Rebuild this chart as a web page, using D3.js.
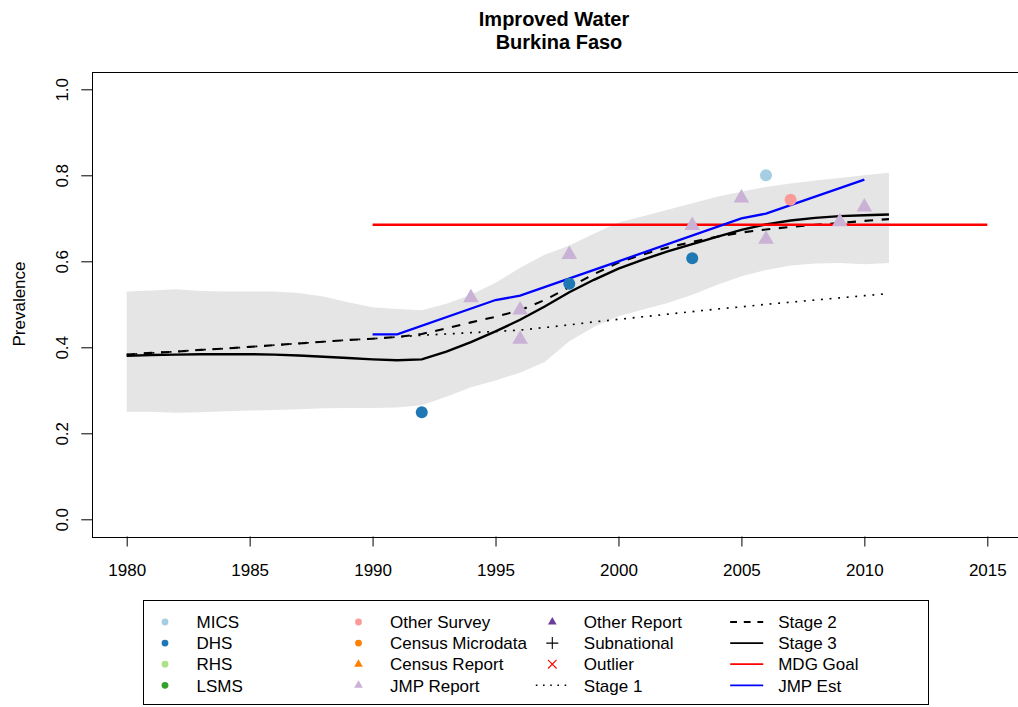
<!DOCTYPE html>
<html>
<head>
<meta charset="utf-8">
<script src="https://cdn.jsdelivr.net/npm/d3@7"></script>
<style>
  html, body { margin: 0; padding: 0; background: #ffffff; }
  svg { display: block; font-family: "Liberation Sans", Arial, Helvetica, sans-serif; }
</style>
</head>
<body>
<script>
// ---- Data -------------------------------------------------------------
const years = [1980,1981,1982,1983,1984,1985,1986,1987,1988,1989,1990,1991,1992,1993,1994,1995,
               1996,1997,1998,1999,2000,2001,2002,2003,2004,2005,2006,2007,2008,2009,2010,2011];

const stage1 = [0.383,0.387,0.390,0.394,0.397,0.401,0.405,0.409,0.413,0.417,0.420,0.424,0.428,0.431,0.434,0.437,
                0.440,0.446,0.452,0.459,0.465,0.471,0.477,0.483,0.489,0.494,0.500,0.505,0.510,0.515,0.520,0.525];
const stage2 = [0.383,0.387,0.390,0.394,0.397,0.401,0.405,0.409,0.413,0.417,0.420,0.424,0.431,0.444,0.458,0.471,
                0.486,0.510,0.540,0.570,0.597,0.616,0.632,0.645,0.657,0.667,0.674,0.680,0.685,0.689,0.694,0.698];
const stage3 = [0.380,0.382,0.383,0.384,0.384,0.384,0.383,0.381,0.378,0.375,0.372,0.370,0.372,0.390,0.412,0.437,
                0.464,0.495,0.528,0.557,0.583,0.604,0.623,0.640,0.657,0.673,0.686,0.695,0.701,0.705,0.707,0.709];
const bandUpper = [0.530,0.532,0.535,0.531,0.530,0.530,0.530,0.526,0.518,0.505,0.493,0.489,0.486,0.501,0.522,0.550,
                   0.585,0.615,0.637,0.664,0.690,0.705,0.720,0.735,0.750,0.762,0.773,0.781,0.788,0.794,0.800,0.806];
const bandLower = [0.250,0.250,0.248,0.249,0.251,0.253,0.254,0.256,0.258,0.259,0.259,0.260,0.265,0.285,0.307,0.323,
                   0.341,0.366,0.414,0.447,0.472,0.488,0.503,0.522,0.545,0.565,0.580,0.590,0.595,0.596,0.593,0.596];

const jmpEstYears = [1990,1991,1995,1996,2000,2005,2006,2010];
const jmpEstVals  = [0.430,0.430,0.510,0.520,0.600,0.700,0.711,0.790];

const mdgYears = [1990, 2015];
const mdgGoal  = 0.685;

const dhsYears = [1992, 1998, 2003];
const dhsVals  = [0.249, 0.548, 0.607];
const micsYears = [2006];
const micsVals  = [0.800];
const otherSurveyYears = [2007];
const otherSurveyVals  = [0.743];
const jmpReportYears = [1994, 1996, 1996, 1998, 2003, 2005, 2006, 2009, 2010];
const jmpReportVals  = [0.515, 0.487, 0.419, 0.616, 0.683, 0.747, 0.651, 0.692, 0.726];

const xTicks = [1980, 1985, 1990, 1995, 2000, 2005, 2010, 2015];
const yTicks = [0.0, 0.2, 0.4, 0.6, 0.8, 1.0];

const titleLines = ["Improved Water", "Burkina Faso"];
const yLabel = "Prevalence";

const legendLabels = ["MICS","DHS","RHS","LSMS",
                      "Other Survey","Census Microdata","Census Report","JMP Report",
                      "Other Report","Subnational","Outlier","Stage 1",
                      "Stage 2","Stage 3","MDG Goal","JMP Est"];
const legendKinds  = ["circle","circle","circle","circle",
                      "circle","circle","triangle","triangle",
                      "triangle","plus","cross","dotted",
                      "dashed","solid","solid","solid"];
const legendColors = ["#A6CEE3","#1F78B4","#B2DF8A","#33A02C",
                      "#FB9A99","#FF7F00","#FF7F00","#CAB2D6",
                      "#6A3D9A","#000000","#FF0000","#000000",
                      "#000000","#000000","#FF0000","#0000FF"];

// ---- Layout -----------------------------------------------------------
const W = 1018, H = 707;
const x = d3.scaleLinear().domain([1980, 2015]).range([126.7, 987.3]);
const y = d3.scaleLinear().domain([0, 1]).range([519.3, 89.3]);
const box = { left: x(1978.6), right: x(2016.4), top: y(1.04), bottom: y(-0.04) };

const svg = d3.select("body").append("svg").attr("width", W).attr("height", H);
svg.append("rect").attr("width", W).attr("height", H).attr("fill", "#ffffff");

svg.append("defs").append("clipPath").attr("id", "plotClip")
  .append("rect").attr("x", box.left).attr("y", box.top)
  .attr("width", box.right - box.left).attr("height", box.bottom - box.top);

const plot = svg.append("g").attr("clip-path", "url(#plotClip)");

// uncertainty band
const bandRows = years.map((yr, i) => ({ yr, lo: bandLower[i], hi: bandUpper[i] }));
plot.append("path")
  .datum(bandRows)
  .attr("fill", "#E5E5E5")
  .attr("d", d3.area().x(d => x(d.yr)).y0(d => y(d.lo)).y1(d => y(d.hi)));

const line = d3.line().x(d => x(d[0])).y(d => y(d[1]));
const zip = (xs, vs) => xs.map((v, i) => [v, vs[i]]);

plot.append("path").datum(zip(years, stage1))
  .attr("fill", "none").attr("stroke", "#000").attr("stroke-width", 1.7)
  .attr("stroke-dasharray", "1.9 6.7").attr("d", line);
plot.append("path").datum(zip(years, stage2))
  .attr("fill", "none").attr("stroke", "#000").attr("stroke-width", 2.1)
  .attr("stroke-dasharray", "8.6 8.6").attr("d", line);
plot.append("path").datum(zip(years, stage3))
  .attr("fill", "none").attr("stroke", "#000").attr("stroke-width", 2.4)
  .attr("d", line);
plot.append("path").datum(mdgYears.map(yr => [yr, mdgGoal]))
  .attr("fill", "none").attr("stroke", "#FF0000").attr("stroke-width", 2.4)
  .attr("d", line);
plot.append("path").datum(zip(jmpEstYears, jmpEstVals))
  .attr("fill", "none").attr("stroke", "#0000FF").attr("stroke-width", 2.3)
  .attr("d", line);

// triangle path centred on its centroid
function triPath(cx, cy, r) {
  const hw = r * Math.sqrt(3) / 2;
  return `M${cx},${cy - r}L${cx + hw},${cy + r / 2}L${cx - hw},${cy + r / 2}Z`;
}

plot.selectAll("path.jmpRep").data(zip(jmpReportYears, jmpReportVals)).enter()
  .append("path").attr("class", "jmpRep")
  .attr("fill", "#CAB2D6")
  .attr("d", d => triPath(x(d[0]), y(d[1]), 9));

function drawCircles(xs, vs, color) {
  plot.append("g").selectAll("circle").data(zip(xs, vs)).enter()
    .append("circle")
    .attr("cx", d => x(d[0])).attr("cy", d => y(d[1])).attr("r", 6)
    .attr("fill", color);
}
drawCircles(dhsYears, dhsVals, "#1F78B4");
drawCircles(micsYears, micsVals, "#A6CEE3");
drawCircles(otherSurveyYears, otherSurveyVals, "#FB9A99");

// ---- Axes -------------------------------------------------------------
const xAxis = svg.append("g").attr("transform", `translate(0,${box.bottom})`)
  .call(d3.axisBottom(x).tickValues(xTicks).tickSize(10).tickSizeOuter(0).tickFormat(d3.format("d")));
xAxis.select(".domain").remove();
xAxis.selectAll(".tick line").attr("stroke", "#000");
xAxis.selectAll("text").attr("y", 39.3).attr("dy", 0)
  .attr("font-size", 17).attr("fill", "#000")
  .attr("font-family", "'Liberation Sans', Arial, Helvetica, sans-serif");

const yAxis = svg.append("g").attr("transform", `translate(${box.left},0)`)
  .call(d3.axisLeft(y).tickValues(yTicks).tickSize(11).tickSizeOuter(0).tickFormat(d3.format(".1f")));
yAxis.select(".domain").remove();
yAxis.selectAll(".tick line").attr("stroke", "#000");
yAxis.selectAll("text")
  .attr("x", 0).attr("dy", 0)
  .attr("transform", "translate(-24,0) rotate(-90)")
  .attr("text-anchor", "middle")
  .attr("font-size", 17).attr("fill", "#000")
  .attr("font-family", "'Liberation Sans', Arial, Helvetica, sans-serif");

// plot frame
svg.append("rect")
  .attr("x", Math.round(box.left) + 0.5).attr("y", Math.round(box.top) + 0.5)
  .attr("width", box.right - box.left).attr("height", Math.round(box.bottom) - Math.round(box.top))
  .attr("fill", "none").attr("stroke", "#000").attr("stroke-width", 1);

// ---- Titles -----------------------------------------------------------
svg.append("text").attr("x", 554).attr("y", 26).attr("text-anchor", "middle")
  .attr("font-size", 20).attr("font-weight", "bold").text(titleLines[0]);
svg.append("text").attr("x", 559).attr("y", 49.3).attr("text-anchor", "middle")
  .attr("font-size", 20).attr("font-weight", "bold").text(titleLines[1]);

svg.append("text").attr("transform", "translate(25,304) rotate(-90)")
  .attr("text-anchor", "middle").attr("font-size", 17).text(yLabel);

// ---- Legend -----------------------------------------------------------
const legend = svg.append("g");
legend.append("rect").attr("x", 143.5).attr("y", 600.5).attr("width", 785).attr("height", 104)
  .attr("fill", "#fff").attr("stroke", "#000").attr("stroke-width", 1);

const colX = [165, 358.5, 552.3, 746.7];
const rowY = [622, 643.1, 664.2, 685.3];

legendLabels.forEach((lab, i) => {
  const c = Math.floor(i / 4), r = i % 4;
  const sx = colX[c], sy = rowY[r];
  const kind = legendKinds[i], col = legendColors[i];
  if (kind === "circle") {
    legend.append("circle").attr("cx", sx).attr("cy", sy).attr("r", 3.4).attr("fill", col);
  } else if (kind === "triangle") {
    legend.append("path").attr("d", triPath(sx, sy, 5.0)).attr("fill", col);
  } else if (kind === "plus") {
    legend.append("path").attr("d", `M${sx - 6},${sy}H${sx + 6}M${sx},${sy - 6}V${sy + 6}`)
      .attr("stroke", col).attr("stroke-width", 1.1);
  } else if (kind === "cross") {
    legend.append("path").attr("d", `M${sx - 4.3},${sy - 4.3}L${sx + 4.3},${sy + 4.3}M${sx - 4.3},${sy + 4.3}L${sx + 4.3},${sy - 4.3}`)
      .attr("stroke", col).attr("stroke-width", 1.1);
  } else {
    const seg = legend.append("line").attr("x1", sx - 16.5).attr("x2", sx + 16.5)
      .attr("y1", sy).attr("y2", sy).attr("stroke", col).attr("stroke-width", 1.8);
    if (kind === "dotted") seg.attr("stroke-dasharray", "1.6 5.6").attr("stroke-width", 1.5);
    if (kind === "dashed") seg.attr("stroke-dasharray", "6.8 6.8");
  }
  legend.append("text").attr("x", sx + 31.5).attr("y", sy + 6.2)
    .attr("font-size", 17).attr("fill", "#000").text(lab);
});
</script>
</body>
</html>
